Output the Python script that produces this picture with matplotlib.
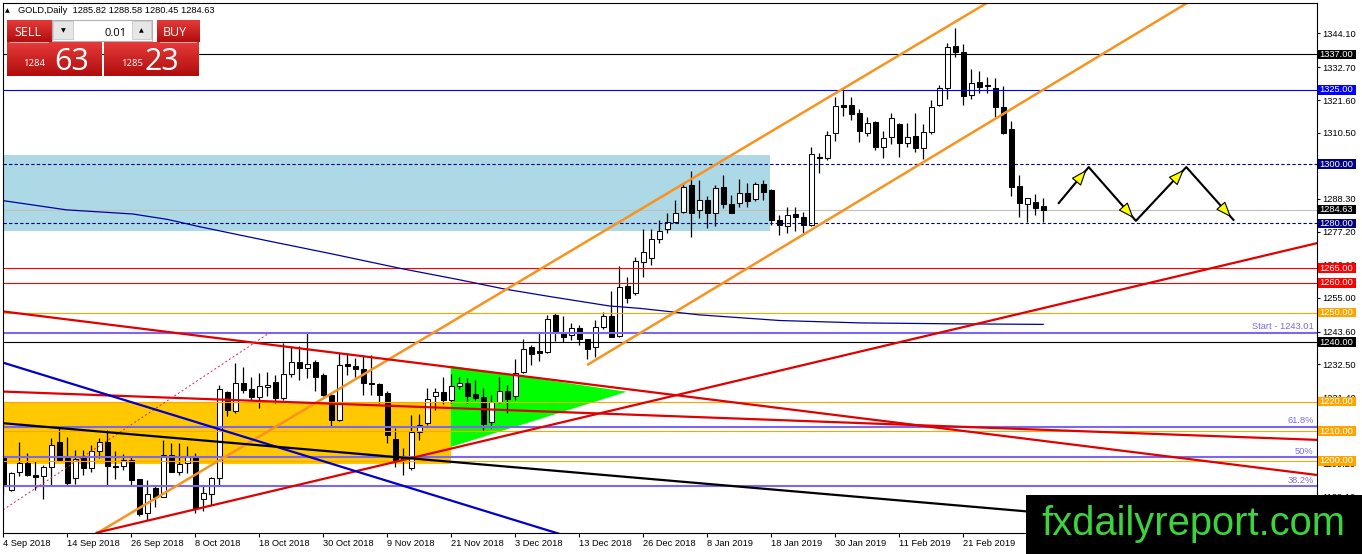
import numpy as np
import matplotlib
matplotlib.use('Agg')
from matplotlib import pyplot as plt
from matplotlib import transforms as mtransforms
from matplotlib.patches import Rectangle, Polygon, FancyArrowPatch
from matplotlib.colors import LinearSegmentedColormap

plt.rcParams['font.family'] = ['Liberation Sans', 'DejaVu Sans']

# -------------------------- data --------------------------
# daily candles, 4 Sep 2018 .. 7 Mar 2019
opens = [1200.9, 1190.3, 1196.1, 1199.2, 1195.3, 1195.0, 1197.9, 1206.5, 1200.9, 1194.2,
         1200.9, 1197.6, 1203.5, 1206.2, 1198.4, 1198.4, 1200.4, 1193.9, 1182.4, 1190.8,
         1188.0, 1202.1, 1196.4, 1199.2, 1201.7, 1187.1, 1188.9, 1194.2, 1223.2, 1216.7,
         1226.2, 1224.2, 1221.5, 1224.9, 1226.5, 1221.1, 1229.3, 1233.3, 1231.3, 1233.3,
         1229.0, 1222.3, 1213.8, 1232.7, 1232.0, 1230.9, 1226.4, 1226.0, 1222.8, 1207.3,
         1200.9, 1197.6, 1209.9, 1212.7, 1221.7, 1223.1, 1220.6, 1225.1, 1226.4, 1222.6,
         1221.4, 1213.0, 1220.0, 1223.6, 1221.7, 1230.1, 1238.5, 1237.0, 1236.8, 1249.2,
         1243.6, 1242.5, 1244.7, 1241.0, 1238.3, 1245.0, 1248.9, 1242.1, 1259.0, 1256.5,
         1267.0, 1268.5, 1274.7, 1278.1, 1280.6, 1284.0, 1293.0, 1284.6, 1288.0, 1283.7,
         1292.2, 1286.6, 1286.8, 1290.4, 1288.2, 1293.3, 1291.3, 1281.2, 1279.2, 1283.2,
         1282.3, 1279.5, 1302.3, 1302.0, 1310.4, 1319.8, 1319.8, 1317.2, 1310.6, 1314.3,
         1305.9, 1309.3, 1313.5, 1307.0, 1309.5, 1305.3, 1310.9, 1319.9, 1325.6, 1339.8,
         1337.9, 1323.3, 1327.8, 1326.6, 1325.6, 1319.2, 1311.7, 1292.7, 1286.6, 1287.4,
         1285.82]
highs = [1201.5, 1196.2, 1206.5, 1202.6, 1199.8, 1198.7, 1207.7, 1211.8, 1207.9, 1203.7,
         1203.7, 1205.4, 1207.7, 1210.3, 1203.2, 1202.4, 1201.5, 1194.0, 1193.6, 1191.6,
         1207.1, 1206.0, 1206.0, 1204.9, 1202.6, 1191.4, 1194.5, 1225.6, 1223.4, 1232.9,
         1231.8, 1228.4, 1229.6, 1230.1, 1229.0, 1239.7, 1238.6, 1238.6, 1243.0, 1234.0,
         1229.6, 1222.8, 1236.3, 1236.3, 1234.6, 1235.7, 1235.7, 1226.4, 1223.4, 1211.0,
         1204.3, 1215.5, 1215.9, 1224.5, 1224.5, 1228.2, 1229.3, 1228.4, 1227.9, 1227.3,
         1224.5, 1222.2, 1228.4, 1225.6, 1234.3, 1241.0, 1239.1, 1243.2, 1249.2, 1250.0,
         1248.9, 1246.4, 1245.8, 1241.2, 1247.5, 1250.3, 1257.4, 1265.7, 1261.9, 1268.8,
         1278.2, 1278.1, 1281.2, 1283.5, 1288.0, 1293.6, 1297.8, 1294.5, 1289.1, 1293.0,
         1296.4, 1289.6, 1294.9, 1293.8, 1294.1, 1294.7, 1291.5, 1282.9, 1285.7, 1285.7,
         1284.0, 1305.9, 1303.9, 1311.3, 1322.5, 1325.2, 1322.5, 1318.5, 1315.8, 1314.6,
         1311.0, 1317.2, 1314.0, 1313.8, 1317.2, 1313.5, 1321.6, 1326.7, 1340.7, 1345.8,
         1340.5, 1332.0, 1331.5, 1329.3, 1328.9, 1326.4, 1314.7, 1296.4, 1288.7, 1290.0,
         1288.58]
lows = [1188.9, 1190.0, 1195.0, 1195.0, 1190.3, 1187.1, 1191.4, 1199.8, 1192.0, 1192.3,
        1195.3, 1196.4, 1200.9, 1192.0, 1193.9, 1196.8, 1191.6, 1181.3, 1180.2, 1184.6,
        1187.8, 1196.1, 1195.3, 1195.9, 1182.4, 1183.0, 1185.2, 1191.4, 1215.0, 1216.1,
        1222.8, 1220.6, 1217.8, 1221.7, 1219.5, 1220.6, 1228.4, 1227.3, 1227.9, 1223.4,
        1221.7, 1211.6, 1213.3, 1229.0, 1228.4, 1222.3, 1222.3, 1219.5, 1206.0, 1198.1,
        1195.3, 1197.0, 1207.1, 1212.2, 1217.2, 1219.2, 1219.5, 1224.2, 1219.4, 1220.6,
        1210.5, 1211.0, 1219.4, 1216.1, 1220.6, 1229.5, 1232.4, 1233.8, 1236.5, 1240.5,
        1240.2, 1240.8, 1239.1, 1234.3, 1234.9, 1244.4, 1241.7, 1241.9, 1253.1, 1255.9,
        1262.0, 1266.0, 1273.3, 1276.7, 1280.1, 1283.7, 1275.6, 1281.8, 1278.4, 1279.0,
        1285.1, 1283.5, 1285.7, 1285.7, 1287.7, 1288.0, 1279.5, 1276.1, 1276.7, 1277.3,
        1276.7, 1279.2, 1296.9, 1301.4, 1307.9, 1316.2, 1314.9, 1307.6, 1309.5, 1304.6,
        1302.0, 1306.8, 1302.5, 1305.7, 1304.2, 1301.7, 1310.2, 1319.6, 1321.9, 1336.0,
        1319.9, 1321.9, 1324.1, 1323.9, 1316.0, 1310.2, 1289.1, 1282.3, 1280.6, 1282.9,
        1280.45]
closes = [1191.4, 1195.9, 1199.2, 1195.3, 1194.5, 1198.1, 1205.3, 1200.4, 1192.5, 1200.6,
          1197.6, 1203.2, 1206.2, 1198.4, 1197.9, 1200.4, 1193.6, 1182.2, 1188.8, 1188.0,
          1202.1, 1196.4, 1199.0, 1201.7, 1184.1, 1189.1, 1194.2, 1224.2, 1217.0, 1226.2,
          1224.0, 1221.5, 1225.1, 1225.6, 1221.1, 1229.3, 1233.3, 1231.3, 1232.7, 1228.4,
          1222.3, 1213.8, 1232.4, 1232.0, 1230.9, 1226.2, 1226.0, 1222.3, 1208.8, 1200.4,
          1200.8, 1209.9, 1212.2, 1220.8, 1223.1, 1220.6, 1225.1, 1226.4, 1221.9, 1221.1,
          1212.5, 1220.0, 1223.4, 1220.8, 1229.5, 1237.6, 1236.1, 1236.5, 1247.7, 1243.6,
          1241.9, 1244.7, 1241.0, 1237.6, 1245.0, 1248.9, 1241.9, 1258.7, 1254.8, 1267.2,
          1270.5, 1274.7, 1277.3, 1280.6, 1283.5, 1292.4, 1283.7, 1288.0, 1283.7, 1291.9,
          1286.6, 1283.7, 1290.2, 1287.7, 1293.3, 1290.7, 1281.2, 1279.5, 1282.9, 1282.1,
          1279.5, 1303.4, 1301.9, 1309.8, 1319.6, 1319.4, 1316.8, 1311.0, 1314.0, 1305.9,
          1308.7, 1315.5, 1307.0, 1309.0, 1305.3, 1310.9, 1319.4, 1325.6, 1339.6, 1337.9,
          1323.0, 1327.5, 1325.9, 1326.4, 1319.2, 1310.6, 1292.2, 1287.0, 1288.5, 1285.1,
          1284.63]
ask_price = 1285.23

# x axis labels, one every 8 bars
date_labels = ['4 Sep 2018', '14 Sep 2018', '26 Sep 2018', '8 Oct 2018', '18 Oct 2018',
               '30 Oct 2018', '9 Nov 2018', '21 Nov 2018', '3 Dec 2018', '13 Dec 2018',
               '26 Dec 2018', '8 Jan 2019', '18 Jan 2019', '30 Jan 2019', '11 Feb 2019',
               '21 Feb 2019']
date_step = 8

# price scale labels
axis_ticks = [1344.10, 1332.70, 1321.60, 1310.50, 1299.40, 1288.30, 1277.20, 1266.10,
              1255.00, 1243.60, 1232.50, 1221.40, 1210.30, 1199.20, 1188.10]

# moving average (bar index, value)
ma_bars = [0, 7.9, 16.2, 20.5, 24.6, 33.0, 41.2, 49.6, 57.1, 62.7, 68.3, 75.8, 79.6,
           87.1, 97.1, 107.1, 118.3, 130]
ma_values = [1287.7, 1284.6, 1283.2, 1281.4, 1278.9, 1274.2, 1269.7, 1264.9, 1261.0,
             1257.9, 1255.4, 1252.2, 1251.4, 1249.2, 1247.3, 1246.5, 1246.2, 1246.0]

# horizontal levels
level_prices = [1337.0, 1325.0, 1300.0, 1280.0, 1265.0, 1260.0, 1250.0, 1240.0, 1220.0, 1210.0, 1200.0]
level_colors = ['black', '#0000ff', '#000080', '#000080', '#ff0000', '#ff0000',
                '#ffa500', 'black', '#ffa500', '#ffa500', '#ffa500']
level_dashed = [False, False, True, True, False, False, False, False, False, False, False]

# fibo levels
fib_prices = [1243.01, 1211.4, 1201.2, 1191.4]
fib_labels = ['Start - 1243.01', '61.8%', '50%', '38.2%']

# trend lines as (bar index, price) pairs
channel_upper = ([12.1, 125.7], [1176.2, 1358.7])
channel_lower = ([73.0, 150.7], [1232.3, 1358.7])
red_line_a = ([-0.4, 164.1], [1250.5, 1195.3])
red_line_b = ([-0.4, 164.1], [1223.4, 1207.1])
red_line_c = ([11.7, 164.2], [1175.8, 1273.35])
red_dotted = ([0.0, 33.1], [1183.5, 1242.8])
blue_line = ([0.0, 74.0], [1233.1, 1171.7])
black_line = ([0.0, 128.3], [1212.7, 1182.9])

# zones
green_tri_x = [55.96, 55.96, 77.96]
green_tri_y = [1232.0, 1204.7, 1223.3]
yellow_zone = (-0.5, 55.96, 1199.0, 1219.8)
blue_zone = (-0.5, 95.9, 1277.3, 1303.1)

# projected zigzag
zigzag_x = [131.96, 135.7, 141.6, 147.9, 153.8]
zigzag_y = [1286.9, 1299.0, 1280.9, 1299.0, 1281.2]

# -------------------------- figure --------------------------
W, H = 1362, 554
fig = plt.figure(figsize=(W / 100, H / 100), dpi=100, facecolor='white')
ax_l, ax_r, ax_t, ax_b = 2.7, 1316.7, 2.7, 533.3
ax = fig.add_axes([ax_l / W, (H - ax_b) / H, (ax_r - ax_l) / W, (ax_b - ax_t) / H])
axes_w_px = ax_r - ax_l

ax.set_xlim(-0.05, 164.2)
ax.set_ylim(1175.6, 1354.4)

# zones
ax.add_patch(Rectangle((blue_zone[0], blue_zone[2]), blue_zone[1] - blue_zone[0],
                       blue_zone[3] - blue_zone[2], facecolor='#add8e6', edgecolor='none', zorder=1))
ax.add_patch(Rectangle((yellow_zone[0], yellow_zone[2]), yellow_zone[1] - yellow_zone[0],
                       yellow_zone[3] - yellow_zone[2], facecolor='#ffc800', edgecolor='none', zorder=1))
ax.add_patch(Polygon(np.column_stack([green_tri_x, green_tri_y]), closed=True,
                     facecolor='#00ff00', edgecolor='none', zorder=1))

# bid line
ax.axhline(closes[-1], color='#c0c0c0', lw=0.8, zorder=2)

# candles
o = np.array(opens)
c = np.array(closes)
hi = np.array(highs)
lo = np.array(lows)
xs = np.arange(len(o))
up = c >= o
ax.vlines(xs, lo, hi, color='black', lw=0.9, zorder=3)
body_bottom = np.minimum(o, c)
body_height = np.maximum(np.abs(c - o), 0.2)
ax.bar(xs[up], body_height[up], 0.62, bottom=body_bottom[up], color='white',
       edgecolor='black', linewidth=0.75, zorder=4)
ax.bar(xs[~up], body_height[~up], 0.62, bottom=body_bottom[~up], color='black',
       edgecolor='black', linewidth=0.75, zorder=4)

# horizontal levels
for price, color, dashed in zip(level_prices, level_colors, level_dashed):
    if dashed:
        ax.axhline(price, color=color, lw=0.8, dashes=(3, 2), zorder=5)
    else:
        ax.axhline(price, color=color, lw=0.8, zorder=5)

# fibo
for price, text in zip(fib_prices, fib_labels):
    ax.axhline(price, color='#7b68ee', lw=1.5, zorder=5)
    ax.text(163.8, price + 0.6, text, color='#7b68ee', fontsize=6.7, ha='right', va='bottom', zorder=6)

# moving average
ax.plot(ma_bars, ma_values, color='#0000a0', lw=0.9, zorder=5)

# trend lines
ax.plot(*channel_upper, color='#f7931e', lw=1.8, zorder=6, solid_capstyle='butt')
ax.plot(*channel_lower, color='#f7931e', lw=1.8, zorder=6, solid_capstyle='butt')
ax.plot(*red_line_a, color='#e00000', lw=1.6, zorder=6)
ax.plot(*red_line_b, color='#e00000', lw=1.6, zorder=6)
ax.plot(*red_line_c, color='#e00000', lw=1.6, zorder=6)
ax.plot(*red_dotted, color='#dd2255', lw=0.7, dashes=(2, 2.5), zorder=6)
ax.plot(*blue_line, color='#0000cc', lw=1.6, zorder=6)
ax.plot(*black_line, color='black', lw=1.6, zorder=6)

# zigzag with arrow heads
ax.plot(zigzag_x, zigzag_y, color='black', lw=1.5, zorder=7)
for i in range(len(zigzag_x) - 1):
    arr = FancyArrowPatch((zigzag_x[i], zigzag_y[i]), (zigzag_x[i + 1], zigzag_y[i + 1]),
                          arrowstyle='-|>,head_length=1.0,head_width=0.38', mutation_scale=10,
                          shrinkA=0, shrinkB=2.5, lw=0.8, ec='black', fc='#ffff00', zorder=8)
    ax.add_patch(arr)

# axes styling
for sp in ax.spines.values():
    sp.set_color('black')
    sp.set_linewidth(0.8)
    sp.set_zorder(9)

ax.yaxis.tick_right()
ax.set_yticks(axis_ticks, labels=[f'{v:.2f}' for v in axis_ticks])
ax.tick_params(axis='y', direction='out', length=2.5, width=0.8, pad=1.2, labelsize=6.7,
               left=False, labelleft=False, right=True, labelright=True)
ax.set_xticks(np.arange(len(date_labels)) * date_step, labels=date_labels)
ax.tick_params(axis='x', direction='out', length=3, width=0.8, pad=1, labelsize=6.7)
for lbl in ax.get_xticklabels():
    lbl.set_horizontalalignment('left')

# coloured price labels on the scale
label_tf = mtransforms.blended_transform_factory(ax.transAxes, ax.transData)
box_prices = level_prices + [closes[-1]]
box_colors = level_colors + ['black']
for price, color in zip(box_prices, box_colors):
    ax.add_patch(Rectangle((1.0 + 1.0 / axes_w_px, price - 1.6), 38 / axes_w_px, 3.2,
                           transform=label_tf, facecolor=color, edgecolor='none',
                           clip_on=False, zorder=10))
    ax.text(1.0 + 3.0 / axes_w_px, price, f'{price:.2f}', transform=label_tf, color='white',
            fontsize=6.7, ha='left', va='center', clip_on=False, zorder=11)

# -------------------------- one click trading panel --------------------------
panel = fig.add_axes([0, 1 - 80 / H, 205 / W, 80 / H], zorder=6)
panel.axis('off')
red_grad = LinearSegmentedColormap.from_list('btn', ['#e53a3a', '#b10d0d'])
grad = np.linspace(0, 1, 64).reshape(-1, 1)
for x0, x1, y0, y1 in [(6.7, 51, 20, 42), (156.7, 199, 20, 42), (6.7, 101, 42.3, 75.5), (104.3, 199, 42.3, 75.5)]:
    panel.imshow(grad, cmap=red_grad, extent=(x0, x1, y1, y0), aspect='auto', interpolation='bilinear')
panel.plot([10, 48], [41.6, 41.6], color='#f2a0a0', lw=0.8)
panel.plot([159.5, 196], [41.6, 41.6], color='#f2a0a0', lw=0.8)
panel.add_patch(Rectangle((51.7, 20), 100, 20.7, facecolor='white', edgecolor='#b0b0b0', lw=0.8))
panel.add_patch(Rectangle((53.3, 21.3), 19.4, 18, facecolor='#e6e6e6', edgecolor='#c8c8c8', lw=0.6))
panel.add_patch(Rectangle((132.3, 21.3), 18.4, 18, facecolor='#e6e6e6', edgecolor='#c8c8c8', lw=0.6))
panel.text(63, 30.5, '▼', fontsize=4.5, ha='center', va='center', family='DejaVu Sans')
panel.text(141.5, 30.5, '▲', fontsize=4.5, ha='center', va='center', family='DejaVu Sans')
panel.text(126.7, 35.5, '0.01', fontsize=8, ha='right', va='baseline', family=['Open Sans', 'DejaVu Sans'])
panel.text(27.5, 36, 'SELL', fontsize=9, color='white', ha='center', va='baseline', family=['Open Sans', 'DejaVu Sans'])
panel.text(174.7, 36, 'BUY', fontsize=9, color='white', ha='center', va='baseline', family=['Open Sans', 'DejaVu Sans'])
bid_txt = f'{closes[-1]:.2f}'
ask_txt = f'{ask_price:.2f}'
panel.text(22.7, 66, bid_txt[:4], fontsize=6.8, color='white', ha='left', va='baseline', family=['Open Sans', 'DejaVu Sans'])
panel.text(54, 70, bid_txt[-2:], fontsize=22, color='white', ha='left', va='baseline', family=['Open Sans', 'DejaVu Sans'])
panel.text(120.7, 66, ask_txt[:4], fontsize=6.8, color='white', ha='left', va='baseline', family=['Open Sans', 'DejaVu Sans'])
panel.text(144, 70, ask_txt[-2:], fontsize=22, color='white', ha='left', va='baseline', family=['Open Sans', 'DejaVu Sans'])
panel.text(5, 10.5, '▲', fontsize=4.5, ha='left', va='center', family='DejaVu Sans')
panel.text(18.3, 10.5, f'GOLD,Daily  {opens[-1]:.2f} {highs[-1]:.2f} {lows[-1]:.2f} {closes[-1]:.2f}',
           fontsize=6.7, ha='left', va='center')
panel.set_xlim(0, 205)
panel.set_ylim(80, 0)

# -------------------------- watermark --------------------------
fig.add_artist(Rectangle((1026 / W, 0), (W - 1026) / W, 59 / H, transform=fig.transFigure,
                         facecolor='black', edgecolor='none', zorder=20))
fig.text(1041.7 / W, (H - 535) / H, 'fxdailyreport.com', color='#3cd33c', fontsize=28.7,
         ha='left', va='baseline', zorder=21)

fig.savefig('out.png', dpi=100)
